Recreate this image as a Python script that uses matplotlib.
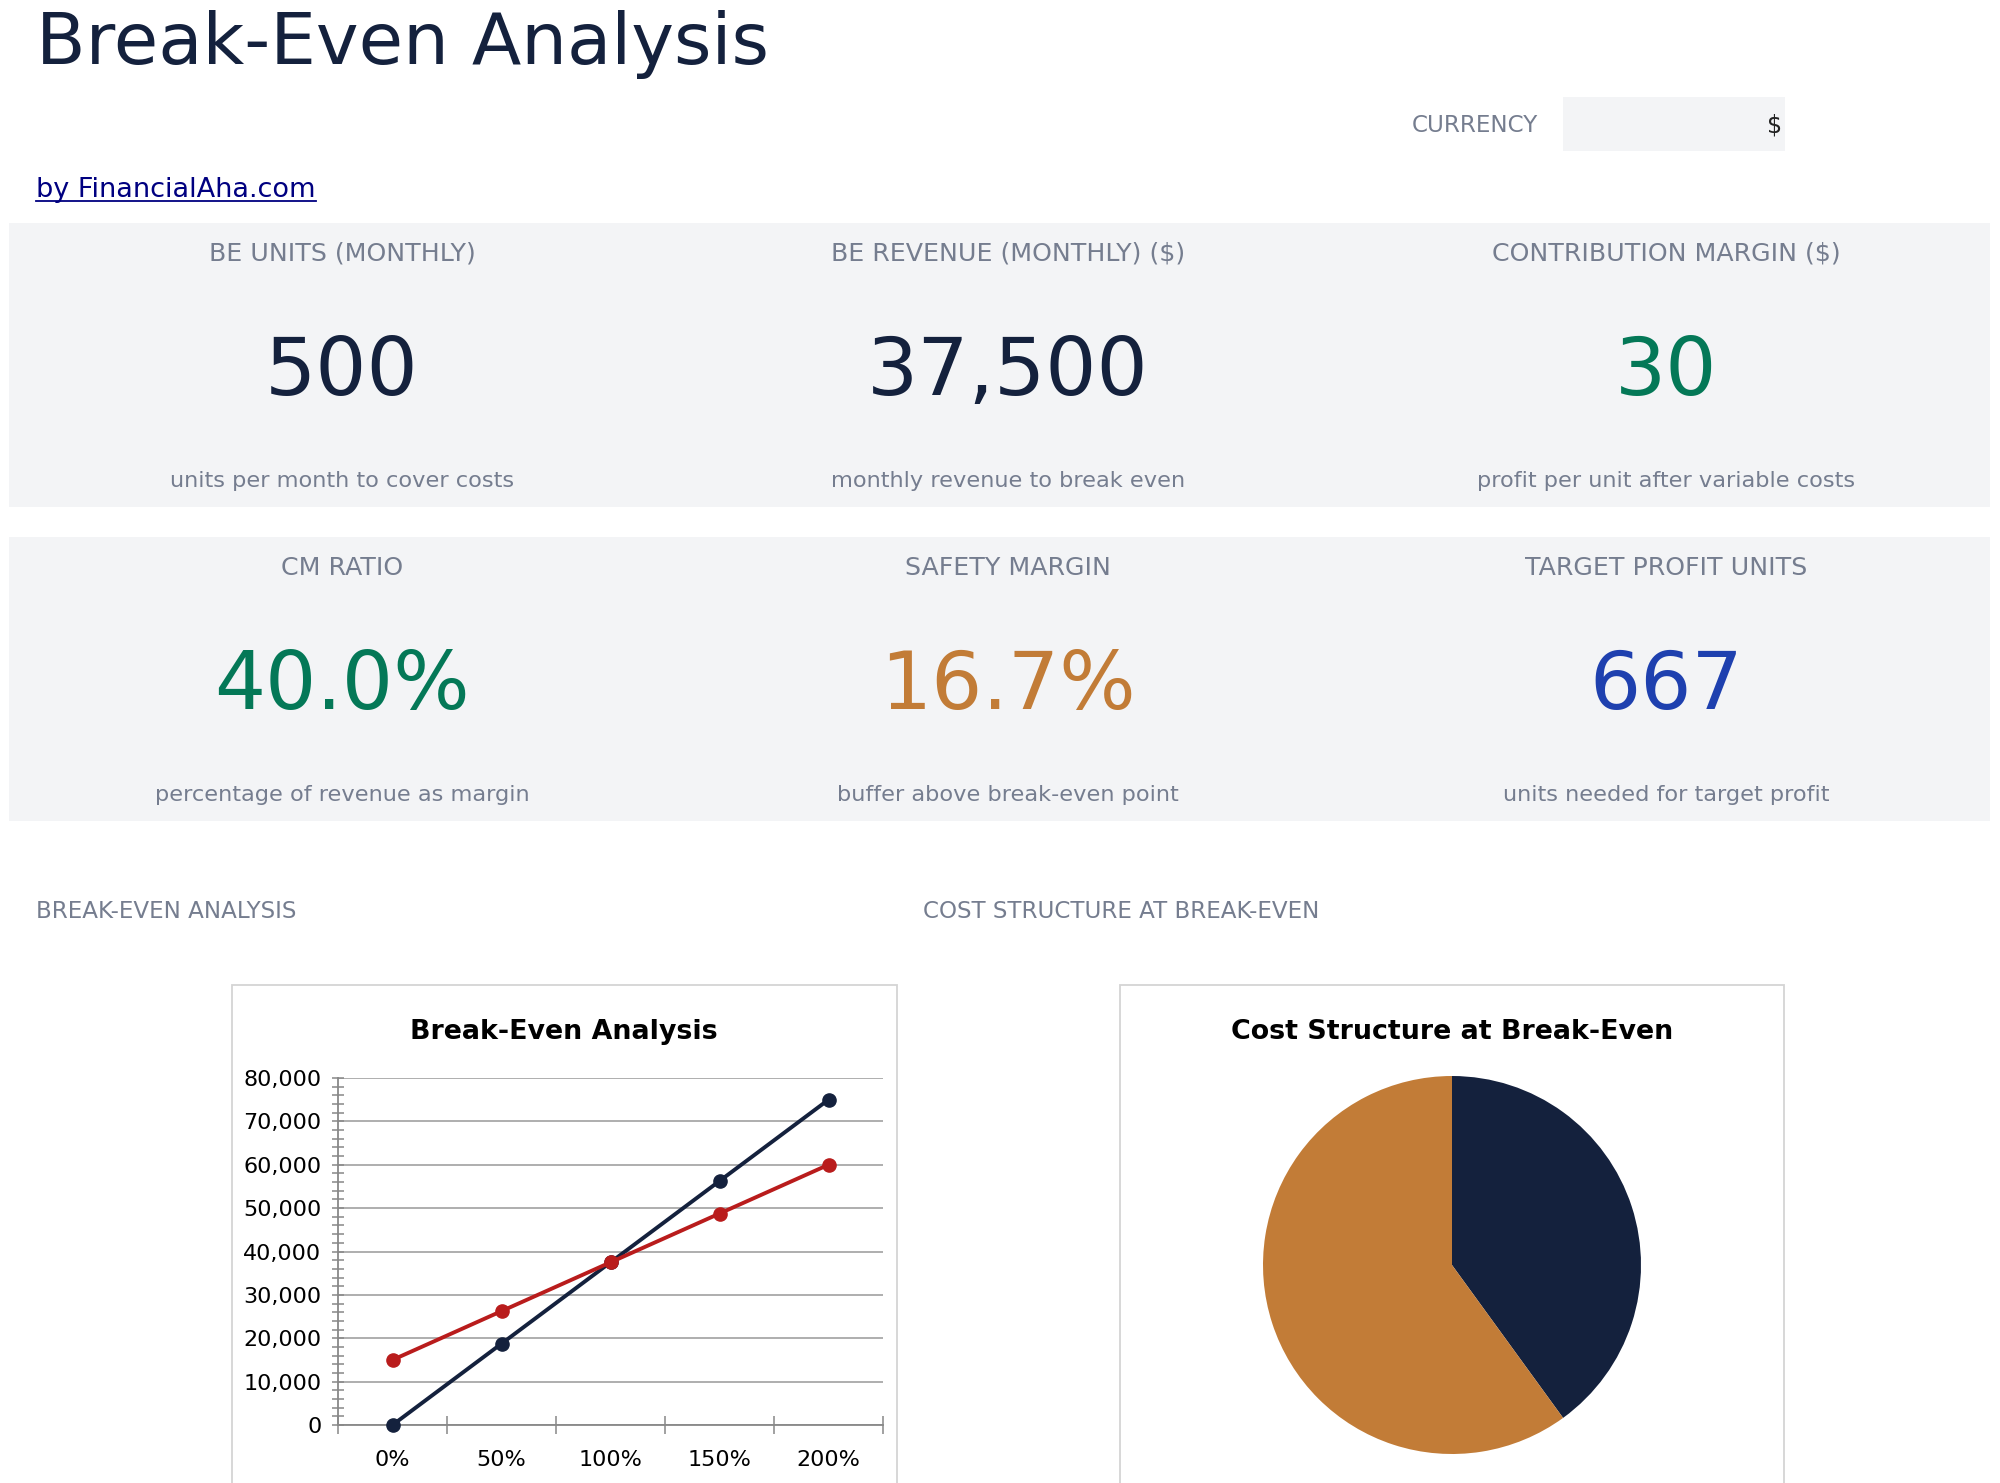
import matplotlib
matplotlib.use("Agg")
import matplotlib.pyplot as plt
from matplotlib.patches import Rectangle
from matplotlib.lines import Line2D
from matplotlib.ticker import MultipleLocator, FuncFormatter, FixedLocator

# ---- data ----
categories = ["0%", "50%", "100%", "150%", "200%"]
revenue = [0, 18750, 37500, 56250, 75000]
total_cost = [15000, 26250, 37500, 48750, 60000]

cost_labels = ["Fixed Costs", "Variable Costs"]
cost_values = [15000, 22500]

kpi_titles = ["BE UNITS (MONTHLY)", "BE REVENUE (MONTHLY) ($)", "CONTRIBUTION MARGIN ($)",
              "CM RATIO", "SAFETY MARGIN", "TARGET PROFIT UNITS"]
kpi_values = ["500", "37,500", "30", "40.0%", "16.7%", "667"]
kpi_notes = ["units per month to cover costs", "monthly revenue to break even",
             "profit per unit after variable costs", "percentage of revenue as margin",
             "buffer above break-even point", "units needed for target profit"]

NAVY = "#14213d"
RED = "#b91c1c"
ORANGE = "#c27c37"
GREEN = "#047857"
BLUE = "#1e40af"
GRAY = "#757d8f"
PANEL = "#f3f4f6"
kpi_colors = [NAVY, NAVY, GREEN, GREEN, ORANGE, BLUE]

W, H = 2000, 1483
fig = plt.figure(figsize=(W / 100, H / 100), dpi=100)
fig.patch.set_facecolor("white")


def fx(x):
    return x / W


def fy(y):
    return 1 - y / H


def rect(x0, y0, x1, y1, **kw):
    fig.add_artist(Rectangle((fx(x0), fy(y1)), fx(x1) - fx(x0), fy(y0) - fy(y1),
                             transform=fig.transFigure, zorder=-5, **kw))


def text(x, y, s, **kw):
    fig.text(fx(x), fy(y), s, **kw)


# ---- header ----
text(36, 64, "Break-Even Analysis", fontsize=52, color=NAVY, va="baseline")
text(1538, 125, "CURRENCY", fontsize=16.6, color=GRAY, ha="right", va="center")
rect(1563, 97, 1785, 151, facecolor=PANEL, edgecolor="none")
text(1782, 125, "$", fontsize=17, color="#222222", ha="right", va="center")
text(36, 197, "by FinancialAha.com", fontsize=19.5, color="#000080", va="baseline")
fig.add_artist(Line2D([fx(36), fx(316)], [fy(201), fy(201)], color="#000080",
                      lw=1.3, transform=fig.transFigure))

# ---- KPI panels ----
col_x = [342, 1008, 1666]
for row in range(2):
    top = 223 + row * 314
    rect(9, top, 1990, top + 284, facecolor=PANEL, edgecolor="none")
    for c in range(3):
        i = row * 3 + c
        text(col_x[c], top + 38, kpi_titles[i], fontsize=18.2, color=GRAY,
             ha="center", va="baseline")
        text(col_x[c], top + 172, kpi_values[i], fontsize=58, color=kpi_colors[i],
             ha="center", va="baseline")
        text(col_x[c], top + 264, kpi_notes[i], fontsize=16.2, color=GRAY,
             ha="center", va="baseline")

# ---- section labels and chart frames ----
text(36, 918, "BREAK-EVEN ANALYSIS", fontsize=16.6, color=GRAY, va="baseline")
text(923, 918, "COST STRUCTURE AT BREAK-EVEN", fontsize=16.6, color=GRAY, va="baseline")
for x0, x1 in [(232, 897), (1120, 1784)]:
    rect(x0, 985, x1, 1500, facecolor="white", edgecolor="#d4d4d4", lw=1.3)

# ---- line chart ----
text(564, 1039, "Break-Even Analysis", fontsize=19.4, fontweight="bold", color="black",
     ha="center", va="baseline")
ax = fig.add_axes([fx(338), fy(1425), fx(883) - fx(338), fy(1078) - fy(1425)])
ax.set_facecolor("none")
xs = list(range(len(categories)))
ax.plot(xs, revenue, color=NAVY, lw=2.8, marker="o", ms=9.5, zorder=3, clip_on=False)
ax.plot(xs, total_cost, color=RED, lw=2.8, marker="o", ms=9.5, zorder=3, clip_on=False)
ax.set_xlim(-0.5, len(categories) - 0.5)
ax.set_ylim(0, 80000)
ax.set_xticks(xs)
ax.set_xticklabels(categories)
ax.xaxis.set_minor_locator(FixedLocator([i - 0.5 for i in range(len(categories) + 1)]))
ax.yaxis.set_major_locator(MultipleLocator(10000))
ax.yaxis.set_minor_locator(MultipleLocator(2000))
ax.yaxis.set_major_formatter(FuncFormatter(lambda v, p: f"{v:,.0f}"))
ax.tick_params(axis="x", which="major", length=0, pad=18, labelsize=16)
ax.tick_params(axis="x", which="minor", direction="inout", length=13, width=1.1, color="#888888")
ax.tick_params(axis="y", which="both", direction="inout", length=9, width=1.1,
               color="#888888", labelsize=16, pad=7.5)
ax.grid(axis="y", which="major", color="#999999", lw=1.1)
ax.set_axisbelow(True)
for side in ["top", "right"]:
    ax.spines[side].set_visible(False)
for side in ["left", "bottom"]:
    ax.spines[side].set_color("#888888")
    ax.spines[side].set_linewidth(1.3)

# ---- pie chart ----
text(1452, 1039, "Cost Structure at Break-Even", fontsize=19.4, fontweight="bold",
     color="black", ha="center", va="baseline")
r = 189
axp = fig.add_axes([fx(1452 - r), fy(1265 + r), 2 * r / W, 2 * r / H])
axp.pie(cost_values, colors=[NAVY, ORANGE], startangle=90, counterclock=False,
        wedgeprops=dict(linewidth=0))
axp.set_xlim(-1, 1)
axp.set_ylim(-1, 1)

fig.savefig("out.png", dpi=100)
